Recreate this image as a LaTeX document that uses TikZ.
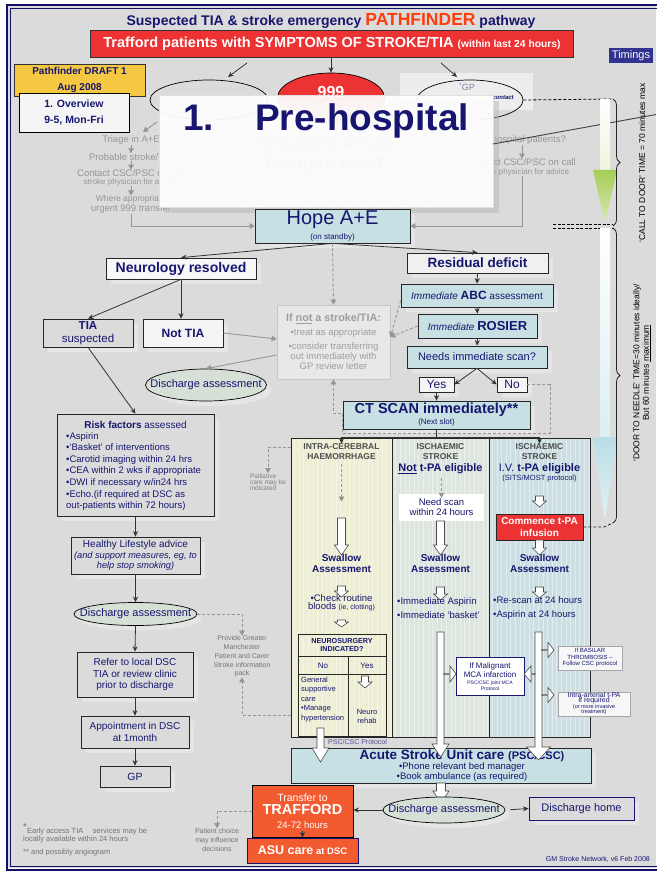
\documentclass[tikz,border=0pt]{standalone}
\usepackage{fontspec}
\setmainfont{Liberation Sans}
\usetikzlibrary{arrows.meta,shapes.geometric,decorations.pathreplacing,shadows,calc}

\definecolor{navy}{RGB}{22,22,112}
\definecolor{bgray}{RGB}{219,219,219}
\definecolor{framec}{RGB}{18,18,100}
\definecolor{ltblue}{RGB}{198,224,228}
\definecolor{cream}{RGB}{238,238,212}
\definecolor{sage}{RGB}{221,229,223}
\definecolor{paleblue}{RGB}{205,223,226}
\definecolor{alarm}{RGB}{236,50,50}
\definecolor{flame}{RGB}{242,90,48}
\definecolor{fade}{RGB}{150,150,150}
\definecolor{ellfill}{RGB}{214,224,214}
\definecolor{hot}{RGB}{255,60,10}
\definecolor{draftyellow}{RGB}{244,200,66}
\definecolor{tabbg}{RGB}{50,50,145}
\definecolor{limeg}{RGB}{165,205,85}
\definecolor{icyb}{RGB}{185,222,230}

\newcommand\fsz[2]{\fontsize{#1}{#2}\selectfont}
% hollow block arrow pointing down: x, top, tip, shaft half-width, head half-width, head length
\newcommand\blkdown[6]{\filldraw[blockarrow] ({#1-(#4)},#2) -- ({#1+(#4)},#2) -- ({#1+(#4)},{#3-(#6)}) -- ({#1+(#5)},{#3-(#6)}) -- (#1,#3) -- ({#1-(#5)},{#3-(#6)}) -- ({#1-(#4)},{#3-(#6)}) -- cycle;}
% hollow block arrow pointing sideways: start x, tip x, y, shaft half, head half, signed head length
\newcommand\blkside[6]{\filldraw[blockarrow] (#1,{#3-(#4)}) -- ({#2-(#6)},{#3-(#4)}) -- ({#2-(#6)},{#3-(#5)}) -- (#2,#3) -- ({#2-(#6)},{#3+(#5)}) -- ({#2-(#6)},{#3+(#4)}) -- (#1,{#3+(#4)}) -- cycle;}

\begin{document}
\begin{tikzpicture}[x=1pt,y=-1pt,
  box/.style={draw=black!85,line width=0.7pt,text=navy,align=center,inner sep=0pt},
  lbox/.style={box,fill=ltblue},
  gbox/.style={box,fill=bgray},
  wbox/.style={box,fill=black!4},
  ghost/.style={drop shadow={shadow xshift=5pt,shadow yshift=-5pt,fill=white,opacity=0.3}},
  conn/.style={draw=black!80,line width=0.8pt,-{Stealth[length=5.5pt,width=5pt]}},
  gconn/.style={draw=fade,line width=0.9pt,-{Triangle[length=5pt,width=5.5pt]}},
  gdash/.style={gconn,dash pattern=on 3pt off 2pt},
  disc/.style={ellipse,draw=black,line width=0.7pt,fill=ellfill,inner sep=0pt},
  disctext/.style={text=navy,font=\fsz{11}{12}},
  blockarrow/.style={fill=white,draw=black!70,line width=0.6pt,line join=miter},
  fadetxt/.style={text=fade,align=center,inner sep=0pt},
  coltitle/.style={text=black!70,font=\bfseries\fsz{8.5}{10},align=center},
  swallow/.style={text=navy,font=\bfseries\fsz{10}{11},align=center},
  tiny/.style={text=navy,align=center,inner sep=0pt},
]
\useasboundingbox (0,0) rectangle (656,874);
% page and frame
\fill[white] (0,0) rectangle (656,874);
\fill[bgray] (8,6) rectangle (656,868);
\draw[framec,line width=2pt] (7,5) rectangle (690,869.5);
\draw[framec,line width=0.6pt] (10.5,8.5) rectangle (686,866);

% heading
\node[text=navy,font=\bfseries\fsz{14}{16}] (title) at (331,21) {Suspected TIA \& stroke emergency {\color{hot}\fsz{17.5}{18}PATHFINDER} pathway};
\node[draw=black!80,line width=0.7pt,fill=alarm,text=white,font=\bfseries\fsz{14.5}{16},minimum width=483pt,minimum height=27pt,inner sep=0pt] (symptoms) at (332,43.5) {Trafford patients with SYMPTOMS OF STROKE/TIA {\fsz{10.3}{12}(within last 24 hours)}};
\node[fill=tabbg,text=white,font=\fsz{11}{12},minimum width=44pt,minimum height=15pt,inner sep=0pt] (timings) at (631,55.5) {Timings};

% entry routes
\fill[white,opacity=0.5] (400,73) rectangle (533,110);
\node[ellipse,draw=black,line width=0.7pt,minimum width=118pt,minimum height=40pt,inner sep=0pt] (selfpres) at (209,100) {};
\node[ellipse,draw=black,line width=0.7pt,fill=alarm,minimum width=107pt,minimum height=50pt,inner sep=0pt] (amb999) at (331,98) {};
\node[text=white,font=\bfseries\fsz{16}{16}] (lbl999) at (331,92) {999};
\node[ellipse,draw=black,line width=0.7pt,minimum width=106pt,minimum height=40pt,inner sep=0pt] (gpcall) at (470,100) {};
\node[text=navy!55,font=\fsz{9}{10}] (gplbl) at (467,87) {\textsuperscript{*}GP};
\node[text=navy,font=\bfseries\itshape\fsz{6}{7}] (gpcontact) at (503,98) {contact};
\coordinate (sl0) at (247,63); \coordinate (sl1) at (228,77);
\coordinate (sr0) at (441,63); \coordinate (sr1) at (457,77);
\draw[conn] (sl0) -- (sl1);
\draw[conn] (sr0) -- (sr1);
\draw[conn] (symptoms.south -| amb999.north) -- (amb999.north);

% faded pre-hospital routes
\node[fadetxt,font=\fsz{9.5}{11}] (triage) at (131,140) {Triage in A+E};
\node[fadetxt,font=\fsz{9.5}{11}] (probable) at (131,157) {Probable stroke/TIA};
\node[fadetxt,font=\fsz{9.5}{8}] (contactl) at (131,178) {Contact CSC/PSC on call\\{\fsz{8}{8}stroke physician for advice}};
\node[fadetxt,font=\fsz{8.5}{9.5}] (urgent) at (131,204.5) {Where appropriate\\{\fsz{9.5}{10}urgent 999 transfer}};
\coordinate (selfout) at (157,122); \coordinate (triagein) at (143,132);
\draw[gconn] (selfout) -- (triagein);
\draw[gconn] (triage) -- (probable);
\draw[gconn] (probable) -- (contactl);
\draw[gconn] (contactl) -- (urgent);
\node[fadetxt,font=\fsz{9.5}{11},anchor=east] (inhosp) at (566,140) {hospital patients?};
\node[fadetxt,font=\fsz{9.5}{9}] (contactr) at (522,167.5) {Contact CSC/PSC on call\\{\fsz{8}{8}stroke physician for advice}};
\draw[gconn] (inhosp.south -| contactr.north) -- (contactr.north);
\node[text=black!45,font=\fsz{16}{16}] (ambarr) at (325,145) {Ambulance Arrives};
\node[text=black!45,font=\bfseries\fsz{18}{18}] (ambfast) at (325,163) {Positive FAST};
\node[text=black!45,font=\fsz{9}{10}] (ambnote) at (325,177) {(or positive FAST within last 24 hours)};
\node[draw=black!40,minimum width=210pt,minimum height=48pt] (ambbox) at (337,161) {};
\node[text=black!45,font=\fsz{11}{12}] (courtesy) at (332,202) {Courtesy Call and transfer to nearest open};

% section banner
\node[fill=white,fill opacity=0.93,draw=black!12,minimum width=334pt,minimum height=112pt,inner sep=0pt,drop shadow={shadow xshift=6pt,shadow yshift=-6pt,fill=black!30,opacity=0.45}] (prehosp) at (326,151) {};
\node[text=navy,font=\bfseries\fsz{37}{40},anchor=base west,inner sep=0pt] (prehosptitle) at (183,131) {1.\hspace{41pt}Pre-hospital};
\draw[black!75,line width=0.9pt] (493,144) -- (656,114.5);

% draft tags
\node[draw=black!80,line width=0.7pt,fill=draftyellow,text=navy,font=\bfseries\fsz{10}{16},minimum width=131pt,minimum height=32pt,align=center,inner sep=0pt] (draft) at (79.5,80) {Pathfinder DRAFT 1\\Aug 2008};
\node[draw=black,line width=0.7pt,fill=black!4,text=navy,font=\bfseries\fsz{10.5}{16},minimum width=110pt,minimum height=39pt,align=center,inner sep=0pt] (overview) at (74,112.5) {1. Overview\\9-5, Mon-Fri};

% timings column
\draw[black,line width=0.8pt,dash pattern=on 3pt off 2pt] (gpcall.east) -- (612,99);
\draw[black,line width=0.8pt,dash pattern=on 3pt off 1.5pt] (553,224.5) -- (612,224.5) (553,228) -- (612,228);
\shade[top color=white,bottom color=white!80!limeg] (600,100) rectangle (610,170);
\shade[top color=limeg,bottom color=limeg!45!white] (593,170) -- (617,170) -- (605,223) -- cycle;
\shade[top color=white,bottom color=icyb!50!white] (600,229) rectangle (610,437);
\shade[top color=icyb,bottom color=icyb!40!white] (593,437) -- (617,437) -- (605,520) -- cycle;
\draw[black!85,line width=0.8pt,decorate,decoration={brace,amplitude=7pt}] (613,99) -- (613,226);
\draw[black!85,line width=0.8pt,decorate,decoration={brace,amplitude=7pt}] (613,228) -- (613,523);
\node[rotate=90,font=\fsz{8.5}{10}] (calltxt) at (642,163) {`CALL TO DOOR' TIME = 70 minutes max};
\node[rotate=90,font=\fsz{8.5}{9.5},align=center] (needletxt) at (642,373) {`DOOR TO NEEDLE' TIME=30 minutes ideally/\\But 60 minutes \underline{maximum}};

% hospital arrival
\node[lbox,ghost,font=\fsz{20}{20},minimum width=155pt,minimum height=34pt] (hope) at (332.5,226) {Hope A+E\\[-5pt]{\fsz{8}{9}(on standby)}};
\draw[gconn] (urgent.south) |- (hope.west);
\draw[gconn] (contactr.south) |- (hope.east);

\node[box,ghost,fill=black!3,font=\bfseries\fsz{14}{16},minimum width=150pt,minimum height=21pt] (neuro) at (181,268.5) {Neurology resolved};
\node[box,ghost,fill=black!6,font=\bfseries\fsz{13.5}{16},minimum width=141pt,minimum height=20pt] (resid) at (477.5,263) {Residual deficit};
\node[gbox,ghost,font=\fsz{11.5}{12.5},minimum width=90pt,minimum height=28pt] (tia) at (88,333) {\textbf{TIA}\\suspected};
\node[wbox,ghost,font=\bfseries\fsz{12}{14},minimum width=80pt,minimum height=28pt] (nottia) at (183,333) {Not TIA};
\node[draw=black!22,line width=0.7pt,fill=black!4,fill opacity=0.5,text opacity=1,text=black!38,align=center,minimum width=113pt,minimum height=74pt,inner sep=0pt,font=\fsz{9.5}{10}] (ifnot) at (333.5,342) {{\bfseries\fsz{10.8}{12}If \underline{not} a stroke/TIA:}\\[4pt]•treat as appropriate\\[4pt]•consider transferring\\out immediately with\\GP review letter};
\node[disc,ghost,minimum width=121pt,minimum height=32pt,label={[disctext]center:Discharge assessment}] (dis1) at (206,385) {};

\node[lbox,ghost,minimum width=152pt,minimum height=23pt,font=\fsz{10}{12}] (abc) at (477,295.5) {\textit{Immediate} {\bfseries\fsz{12}{12}ABC} assessment};
\node[lbox,ghost,minimum width=119pt,minimum height=24pt,font=\fsz{10}{12}] (rosier) at (477.5,326) {\textit{Immediate} {\bfseries\fsz{13}{13}ROSIER}};
\node[lbox,ghost,minimum width=140pt,minimum height=22pt,font=\fsz{11}{12}] (needs) at (477,357) {Needs immediate scan?};
\node[wbox,ghost,minimum width=35pt,minimum height=15pt,font=\fsz{12}{12}] (yes) at (436.5,384.5) {Yes};
\node[wbox,ghost,minimum width=30pt,minimum height=15pt,font=\fsz{12}{12}] (no) at (512,384.5) {No};
\node[lbox,ghost,minimum width=187pt,minimum height=28pt] (ct) at (436.5,415) {{\bfseries\fsz{14.5}{15}CT SCAN immediately**}\\[-1pt]{\fsz{8}{9}(Next slot)}};

\draw[conn] (hope.south) -- (neuro.north);
\draw[conn] (hope.south) -- (resid.north);
\draw[gdash] (hope.south) -- (ifnot.north);
\draw[conn] (neuro.south) -- (tia.north);
\draw[conn] (neuro.south) -- (neuro.south |- nottia.north);
\draw[gconn] (nottia.east) -- ($(ifnot.west)+(0,-3)$);
\draw[gconn] ($(ifnot.west)+(0,13)$) -- (dis1.north);
\draw[conn] (resid.south) -- (abc.north);
\draw[conn] (abc.south) -- (rosier.north);
\draw[conn] (rosier.south) -- (needs.north);
\draw[conn] (needs.south) -- (yes.east);
\draw[conn] (needs.south) -- (no.west);
\draw[conn] (yes.south) -- (yes.south |- ct.north);
\draw[gdash] ($(abc.west)+(0,5)$) -- ($(ifnot.east)+(0,-5)$);
\draw[gdash] (rosier.west) -- ($(ifnot.east)+(0,-5)$);
\draw[gdash] (no.east) -- (550,384.5) -- (550,433) -- (342,433) -- (342,413) -- (333.5,413) -- (ifnot.south);

% left column: TIA pathway
\node[gbox,ghost,minimum width=157pt,minimum height=102pt] (risk) at (135.5,465) {};
\node[text=navy,font=\fsz{10}{12}] (riskhead) at (135.5,424.5) {\textbf{Risk factors} assessed};
\node[text=navy,font=\fsz{9.5}{11.6},align=left,anchor=north west,inner sep=0pt] (risklist) at (66,432) {•Aspirin\\•`Basket' of interventions\\•Carotid imaging within 24 hrs\\•CEA within 2 wks if appropriate\\•DWI if necessary w/in24 hrs\\•Echo.(if required at DSC as\\out-patients within 72 hours)};
\node[gbox,ghost,minimum width=129pt,minimum height=37pt,font=\fsz{10}{10.5}] (healthy) at (135.5,555.5) {Healthy Lifestyle advice\\{\itshape\fsz{9.2}{10.5}(and support measures, eg, to}\\{\itshape\fsz{9.2}{10.5}help stop smoking)}};
\node[disc,ghost,minimum width=123pt,minimum height=23pt,label={[disctext]center:Discharge assessment}] (dis2) at (135.5,614) {};
\node[gbox,ghost,minimum width=116pt,minimum height=45pt,font=\fsz{10}{11.5}] (refer) at (135,674.5) {Refer to local DSC\\TIA or review clinic\\prior to discharge};
\node[gbox,ghost,minimum width=108pt,minimum height=32pt,font=\fsz{10}{11.5}] (appt) at (135,732) {Appointment in DSC\\at 1month};
\node[gbox,ghost,minimum width=70pt,minimum height=21pt,font=\fsz{10.5}{12}] (gp) at (135,776.5) {GP};
\draw[conn] (tia.south) -- (risk.north);
\draw[conn] (risk.south) -- (healthy.north);
\draw[conn] (healthy.south) -- (dis2.north);
\draw[conn] (dis2.south) -- (refer.north);
\draw[conn] (refer.south) -- (appt.north);
\draw[conn] (appt.south) -- (gp.north);

% scan result columns
\node[draw=black!85,fill=cream,minimum width=101pt,minimum height=299pt,inner sep=0pt] (ich) at (341.5,587.5) {};
\node[draw=black!85,fill=sage,minimum width=97pt,minimum height=299pt,inner sep=0pt] (isn) at (440.5,587.5) {};
\node[draw=black!85,fill=paleblue,minimum width=101pt,minimum height=299pt,inner sep=0pt] (ist) at (539.5,587.5) {};
\draw[white,opacity=0.45,line width=0.3pt,step=4.6] (291,438) grid (590,737);
\draw[black!85,line width=0.9pt] (291,438) rectangle (590,737) (392,438) -- (392,737) (489,438) -- (489,737);
\draw[black!85,line width=1.2pt] (ct.south) -- (ct.south |- ich.north);
\draw[conn,line width=1.1pt] (ct.south |- ich.north) -| ($(ich.north)+(0,6)$);
\draw[conn,line width=1.1pt] (ct.south |- ich.north) -| ($(ist.north)+(0,6)$);

% palliative / information side notes
\node[text=black!50,font=\fsz{6.5}{6.3},align=left,inner sep=0pt] (palli) at (268,482) {Palliative\\care may be\\indicated};
\draw[gdash] (ich.west |- 0,447) -| (palli.north);
\node[text=black!55,font=\fsz{7}{8.7},align=center,inner sep=0pt] (packinfo) at (242,656.5) {Provide Greater\\Manchester\\Patient and Carer\\Stroke information\\pack};
\draw[gdash] (dis2.east) -| (packinfo.north);
\draw[gdash] (ich.west |- 0,715) -| (packinfo.south);

% intra-cerebral haemorrhage
\node[coltitle] (ichhead) at (341.5,452) {INTRA-CEREBRAL\\HAEMORRHAGE};
\draw[gdash] (ichhead.south) -- ++(0,38);
\blkdown{341.5}{518}{555}{4}{7}{10}
\node[swallow] (swich) at (341.5,563.5) {Swallow\\Assessment};
\blkdown{341.5}{586}{597}{4}{7}{6}
\node[text=navy,font=\fsz{9.5}{8},align=center] (bloods) at (341.5,603) {•Check routine\\bloods {\fsz{7}{8}(ie, clotting)}};
\blkdown{341.5}{620}{627}{4}{7}{5}
\node[draw=black!85,line width=0.7pt,minimum width=88pt,minimum height=102pt,inner sep=0pt] (neurosurg) at (342,685) {};
\draw[black!85,line width=0.7pt] (298,656) -- (386,656) (298,674) -- (386,674) (348,656) -- (348,736);
\node[tiny,font=\bfseries\fsz{7.2}{8}] (nshead) at (342,645) {NEUROSURGERY\\INDICATED?};
\node[tiny,font=\fsz{8}{9}] (nsno) at (323,665.5) {No};
\node[tiny,font=\fsz{8}{9}] (nsyes) at (367,665.5) {Yes};
\node[tiny,font=\fsz{7.5}{9.5},align=left,anchor=north west] (nsgen) at (301,676.5) {General\\supportive\\care\\•Manage\\hypertension};
\blkdown{365}{676}{688}{3.5}{7}{6}
\node[tiny,font=\fsz{7.5}{9.5}] (nsrehab) at (367,716.5) {Neuro\\rehab};
\node[text=navy!75,font=\fsz{7}{8},anchor=west,inner sep=0pt] (pscproto) at (328,742) {PSC/CSC Protocol};

% ischaemic, not thrombolysed
\node[coltitle] (isnhead) at (440.5,452) {ISCHAEMIC\\STROKE};
\node[text=navy,font=\bfseries\fsz{11}{12}] (isnelig) at (440.5,469) {\underline{Not} t-PA eligible};
\node[fill=white,text=navy,font=\fsz{9.5}{10},minimum width=85pt,minimum height=27pt,inner sep=0pt,align=center] (needscan) at (441.5,507.5) {Need scan\\within 24 hours};
\draw[gdash] (isnelig.south -| needscan.north) -- ($(needscan.north)+(0,4)$);
\blkdown{440.5}{521}{555}{4}{7}{10}
\node[swallow] (swisn) at (440.5,563.5) {Swallow\\Assessment};
\blkdown{440.5}{587}{600}{4}{7}{6}
\node[text=navy,font=\fsz{9.5}{14},align=left,anchor=west,inner sep=0pt] (isnlist) at (397,608) {•Immediate Aspirin\\•Immediate `basket'};

% ischaemic, thrombolysed
\node[coltitle] (isthead) at (539.5,452) {ISCHAEMIC\\STROKE};
\node[text=navy,font=\fsz{11}{12}] (istelig) at (539.5,469) {I.V. \textbf{t-PA eligible}};
\node[text=navy,font=\fsz{7.5}{8},inner sep=0pt] (sits) at (539.5,478.5) {(SITS/MOST protocol)};
\blkdown{539.5}{496}{507}{4}{7}{6}
\node[draw=black!85,line width=0.8pt,fill=alarm,text=white,font=\bfseries\fsz{10}{11.5},minimum width=87pt,minimum height=26pt,inner sep=0pt,align=center] (commence) at (539.5,527) {Commence t-PA\\infusion};
\draw[black!85,line width=0.8pt,dash pattern=on 3pt off 2pt] (commence.east) -- (604,527) -- (613,523);
\blkdown{539.5}{540}{555}{4}{7}{7}
\node[swallow] (swist) at (539.5,563.5) {Swallow\\Assessment};
\blkdown{539.5}{587}{598}{4}{7}{6}
\node[text=navy,font=\fsz{9.5}{14},align=left,anchor=west,inner sep=0pt] (istlist) at (493,608) {•Re-scan at 24 hours\\•Aspirin at 24 hours};

% escalation boxes
\node[draw=navy,line width=0.8pt,fill=white,minimum width=68pt,minimum height=38pt,inner sep=0pt] (mca) at (490,676) {};
\node[tiny,font=\fsz{8}{8.5}] (mcatxt) at (490,670) {If Malignant\\MCA infarction};
\node[tiny,font=\fsz{5}{5.5}] (mcasub) at (490,685.5) {PSC/CSC joint MCA\\Protocol};
\node[draw=black!35,line width=0.6pt,fill=black!3,minimum width=64pt,minimum height=24pt,inner sep=0pt] (basilar) at (590,658) {};
\node[tiny,font=\fsz{6}{6.5}] (basilartxt) at (590,657.5) {If BASILAR\\THROMBOSIS –\\Follow CSC protocol};
\node[draw=black!35,line width=0.6pt,fill=black!3,minimum width=72pt,minimum height=24pt,inner sep=0pt] (intra) at (594,704) {};
\node[tiny,font=\fsz{7}{5.5}] (intratxt) at (594,703.5) {Intra-arterial t-PA\\If required\\{\fsz{5.5}{5}(or more invasive}\\{\fsz{5.5}{5}treatment)}};

% acute stroke unit
\node[lbox,ghost,minimum width=300pt,minimum height=35pt] (asu) at (441,765.5) {};
\node[text=navy,font=\bfseries\fsz{13.5}{14},inner sep=0pt] (asuhead) at (462,756) {Acute Stroke Unit care {\fsz{11}{12}(PSC/CSC)}};
\node[text=navy,font=\fsz{9.5}{10},align=center,inner sep=0pt] (asulist) at (462,772) {•Phone relevant bed manager\\•Book ambulance (as required)};

% block arrows down the columns
\blkdown{320.5}{728}{762}{3.5}{8.5}{14}
\blkdown{440.5}{632}{757}{3.5}{8.5}{13}
\blkdown{538.5}{632}{760}{3.5}{12}{13}
\blkside{444}{456}{674}{0.6}{8}{6}
\blkside{535}{524}{674}{0.6}{8}{-7}
\blkside{542}{554}{650}{0.6}{7.5}{6}
\blkside{542}{554}{695}{0.6}{7.5}{6}

% discharge
\blkdown{441}{783}{803}{4.5}{8}{12}
\node[disc,ghost,minimum width=122pt,minimum height=26pt,label={[disctext]center:Discharge assessment}] (dis3) at (444,810) {};
\node[draw=black,line width=0.8pt,fill=flame,text=white,minimum width=101pt,minimum height=52pt,inner sep=0pt,align=center] (transfer) at (302.5,811) {{\fsz{10.5}{12}Transfer to}\\[1pt]{\bfseries\fsz{14.5}{15}TRAFFORD}\\[2pt]{\fsz{9.5}{11}24-72 hours}};
\node[draw=navy,line width=0.8pt,fill=flame,text=white,font=\bfseries,minimum width=111pt,minimum height=25pt,inner sep=0pt] (asudsc) at (302.5,850.5) {{\fsz{12.5}{14}ASU care} {\fsz{9.5}{12}at DSC}};
\draw[conn] ($(transfer.south)+(0,-6)$) -- (asudsc.north);
\node[draw=navy,line width=0.9pt,fill=bgray,ghost,text=navy,font=\fsz{11}{12},minimum width=105pt,minimum height=23pt,inner sep=0pt] (home) at (581.5,808.5) {Discharge home};
\draw[conn] (dis3.west) -- (dis3.west -| transfer.east);
\draw[conn,shorten <=5pt] (dis3.east) -- (home.west);
\node[text=black!55,font=\fsz{7}{9},align=center,inner sep=0pt] (choice) at (217,840) {Patient choice\\may influence\\decisions};
\draw[gdash] (transfer.west) -| (choice.north);

% footnotes
\node[text=black!55,font=\fsz{7.5}{8.5},align=left,anchor=north west,inner sep=0pt] (footnote) at (23,823) {\raisebox{3pt}{\fsz{10}{10}*}Early access TIA\quad\ services may be\\locally available within 24 hours\\[4pt]** and possibly angiogram};
\node[text=navy,font=\fsz{7}{8},anchor=east,inner sep=0pt] (credit) at (650,859) {GM Stroke Network, v6 Feb 2008};
\end{tikzpicture}
\end{document}
